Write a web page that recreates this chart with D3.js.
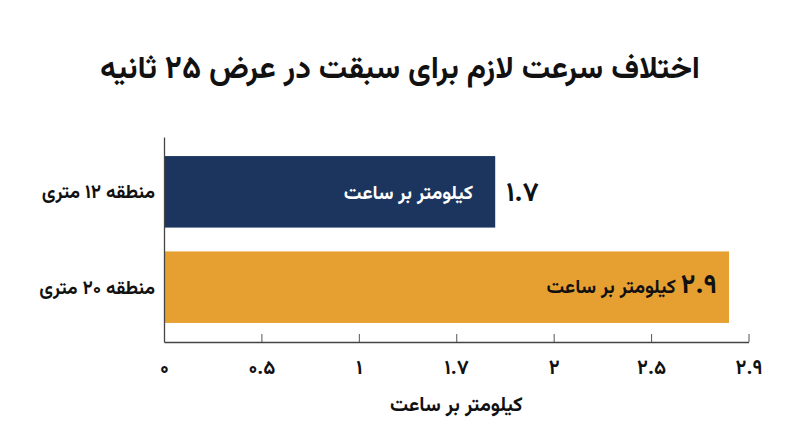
<!DOCTYPE html>
<html><head><meta charset="utf-8">
<script src="https://cdn.jsdelivr.net/npm/d3@7/dist/d3.min.js"></script>
<style>
html,body{margin:0;padding:0;background:#fff;}
svg{display:block;font-family:"Vazirmatn","Noto Sans Arabic","DejaVu Sans",sans-serif;font-weight:bold;}
</style></head>
<body><svg id="c" width="800" height="447"></svg>
<script>
const title = "اختلاف سرعت لازم برای سبقت در عرض ۲۵ ثانیه";
const categories = ["منطقه ۱۲ متری", "منطقه ۲۰ متری"];
const values = [1.7, 2.9];
const valueLabels = ["۱.۷", "۲.۹"];
const unitLabel = "کیلومتر بر ساعت";
const tickValues = [0, 0.5, 1, 1.5, 2, 2.5, 3];
const tickLabels = ["۰", "۰.۵", "۱", "۱.۷", "۲", "۲.۵", "۲.۹"];
const axisTitle = "کیلومتر بر ساعت";
const colors = ["#1c355e", "#e6a032"];

const svg = d3.select("#c");
const x = d3.scaleLinear().domain([0, 3]).range([164, 748.5]);
const y = d3.scaleBand().domain(categories).range([137, 342]).paddingInner(0.25).paddingOuter(0.2);

svg.append("text").attr("x", 400).attr("y", 78).attr("text-anchor", "middle")
  .attr("direction", "rtl").attr("font-size", 31.5).attr("fill", "#111").text(title);

// bars
svg.selectAll("rect.bar").data(values).join("rect").attr("class", "bar")
  .attr("x", x(0)).attr("y", (d, i) => y(categories[i]))
  .attr("width", d => x(d) - x(0)).attr("height", y.bandwidth())
  .attr("fill", (d, i) => colors[i]);

// x axis
const xAxis = d3.axisTop(x).tickValues(tickValues).tickSize(8).tickSizeOuter(0)
  .tickFormat((d, i) => tickLabels[i]);
const gx = svg.append("g").attr("transform", "translate(0,342)").call(xAxis);
gx.attr("font-family", null).attr("font-size", null);
gx.select(".domain").attr("stroke", "#444").attr("stroke-width", 1.3);
gx.selectAll(".tick line").attr("stroke", "#555").attr("stroke-width", 1);
gx.selectAll(".tick text").attr("y", 32).attr("dy", 0).attr("font-size", 20)
  .attr("fill", "#111");

// y axis
const yAxis = d3.axisLeft(y).tickSize(0).tickSizeOuter(0).tickPadding(9);
const gy = svg.append("g").attr("transform", "translate(164,0)").call(yAxis);
gy.attr("font-family", null).attr("font-size", null);
gy.select(".domain").attr("stroke", "#444").attr("stroke-width", 1.3);
gy.selectAll(".tick text").attr("font-size", 19).attr("fill", "#111").attr("dy", "0.35em");

// labels
values.forEach((v, i) => {
  const cy = y(categories[i]) + y.bandwidth() / 2;
  if (v < 2) {
    svg.append("text").attr("x", x(v) + 11).attr("y", cy).attr("dy", "0.35em")
      .attr("font-size", 27).attr("fill", "#111").text(valueLabels[i]);
    svg.append("text").attr("x", x(v) - 22).attr("y", cy).attr("dy", "0.35em")
      .attr("direction", "rtl").attr("text-anchor", "start")
      .attr("font-size", 19.5).attr("fill", "#fff").text(unitLabel);
  } else {
    const t = svg.append("text").attr("x", x(v) - 12).attr("y", cy).attr("dy", "0.35em")
      .attr("direction", "rtl").attr("text-anchor", "start").attr("fill", "#111");
    t.append("tspan").attr("font-size", 27).text(valueLabels[i]);
    t.append("tspan").attr("font-size", 19.5).text(" " + unitLabel);
  }
});

svg.append("text").attr("x", (x(0) + x(3)) / 2).attr("y", 411).attr("text-anchor", "middle")
  .attr("direction", "rtl").attr("font-size", 20).attr("fill", "#111").text(axisTitle);
</script></body></html>
